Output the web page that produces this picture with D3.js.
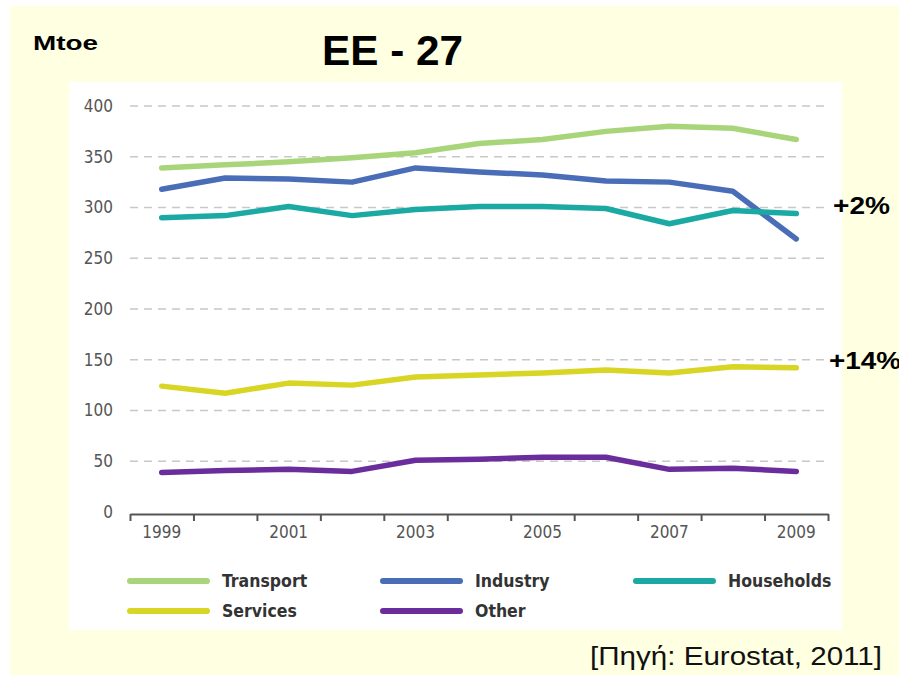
<!DOCTYPE html>
<html>
<head>
<meta charset="utf-8">
<script src="https://cdn.jsdelivr.net/npm/d3@7"></script>
<style>
  body { margin: 0; background: #fff; }
  .narrow { font-family: "DejaVu Sans Condensed", "Liberation Sans Narrow", "Open Sans", sans-serif; }
</style>
</head>
<body>
<script>
// data (Mtoe)
var years = [1999, 2000, 2001, 2002, 2003, 2004, 2005, 2006, 2007, 2008, 2009];
var transport  = [339, 342, 345, 349, 354, 363, 367, 375, 380, 378, 367];
var industry   = [318, 329, 328, 325, 339, 335, 332, 326, 325, 316, 269];
var households = [290, 292, 301, 292, 298, 301, 301, 299, 284, 297, 294];
var services   = [124, 117, 127, 125, 133, 135, 137, 140, 137, 143, 142];
var other      = [39, 41, 42, 40, 51, 52, 54, 54, 42, 43, 40];
var yTicks = [0, 50, 100, 150, 200, 250, 300, 350, 400];
var yearLabels = [1999, 2001, 2003, 2005, 2007, 2009];

var series = [
    {name: "Transport",  values: transport,  color: "#a9d57a"},
    {name: "Industry",   values: industry,   color: "#4a6db7"},
    {name: "Households", values: households, color: "#1ba9a3"},
    {name: "Services",   values: services,   color: "#d9d524"},
    {name: "Other",      values: other,      color: "#6b2c9c"}
];

var width = 899, height = 675;

var svg = d3.select("body")
    .append("svg")
        .attr("width", width)
        .attr("height", height);

// cream slide background and white chart panel
svg.append("rect")
    .attr("x", 10).attr("y", 6)
    .attr("width", width - 10).attr("height", height - 6)
    .attr("fill", "#ffffe1");
svg.append("rect")
    .attr("x", 69).attr("y", 82)
    .attr("width", 773).attr("height", 548)
    .attr("fill", "#ffffff");

var x = d3.scaleBand()
    .domain(years)
    .range([130, 828]);

var xEdge = d3.scaleLinear()
    .domain([0, years.length])
    .range([130, 828]);

var y = d3.scaleLinear()
    .domain([0, 400])
    .range([512, 106]);

// dashed gridlines
svg.append("g")
    .selectAll("line")
    .data(yTicks.filter(function(d) { return d > 0; }))
    .enter()
    .append("line")
        .attr("x1", 130)
        .attr("x2", 828)
        .attr("y1", function(d) { return y(d); })
        .attr("y2", function(d) { return y(d); })
        .attr("stroke", "#c8c8c8")
        .attr("stroke-width", 1.3)
        .attr("stroke-dasharray", "8,6");

// y labels
var leftAxis = d3.axisLeft(y).tickValues(yTicks).tickSize(0).tickPadding(0);
svg.append("g")
    .attr("class", "left axis narrow")
    .attr("transform", "translate(113, 0)")
    .call(leftAxis)
    .call(function(g) { g.select(".domain").remove(); })
    .selectAll("text")
        .attr("font-family", null)
        .attr("font-size", "17px")
        .attr("fill", "#555");

// lines
var line = d3.line()
    .x(function(d, i) { return x(years[i]) + x.bandwidth() / 2; })
    .y(function(d) { return y(d); });

svg.append("g")
    .selectAll("path")
    .data(series)
    .enter()
    .append("path")
        .attr("d", function(s) { return line(s.values); })
        .attr("fill", "none")
        .attr("stroke", function(s) { return s.color; })
        .attr("stroke-width", 5.5)
        .attr("stroke-linecap", "round")
        .attr("stroke-linejoin", "round");

// x axis: ticks at band edges, labels on odd years
var edgeAxis = d3.axisBottom(xEdge)
    .tickValues(d3.range(years.length + 1))
    .tickSize(7)
    .tickSizeOuter(0)
    .tickFormat("");
svg.append("g")
    .attr("class", "bottom axis")
    .attr("transform", "translate(0, 514)")
    .call(edgeAxis)
    .call(function(g) {
        g.select(".domain").attr("stroke", "#555").attr("stroke-width", 2.2);
        g.selectAll(".tick line").attr("stroke", "#555").attr("stroke-width", 2);
    });

var bottomAxis = d3.axisBottom(x)
    .tickValues(yearLabels)
    .tickSize(0)
    .tickPadding(12);
svg.append("g")
    .attr("class", "bottom axis narrow")
    .attr("transform", "translate(0, 514)")
    .call(bottomAxis)
    .call(function(g) { g.select(".domain").remove(); })
    .selectAll("text")
        .attr("font-family", null)
        .attr("font-size", "17px")
        .attr("fill", "#555");

// legend
var legendPos = [[130, 581], [383, 581], [636, 581], [130, 611], [383, 611]];
var legend = svg.append("g")
    .attr("class", "narrow")
    .selectAll("g")
    .data(series)
    .enter()
    .append("g")
        .attr("transform", function(s, i) { return "translate(" + legendPos[i][0] + "," + legendPos[i][1] + ")"; });

legend.append("line")
    .attr("x1", 0).attr("x2", 77)
    .attr("stroke", function(s) { return s.color; })
    .attr("stroke-width", 6)
    .attr("stroke-linecap", "round");

legend.append("text")
    .attr("x", 92)
    .attr("dy", "0.35em")
    .attr("font-size", "17.5px")
    .attr("font-weight", "bold")
    .attr("fill", "#333")
    .text(function(s) { return s.name; });

// titles and notes (the slide text is a little stretched sideways)
var sans = "Liberation Sans, Arial, sans-serif";

svg.append("text")
    .attr("x", 33).attr("y", 50)
    .attr("font-family", sans)
    .attr("font-size", "21px")
    .attr("font-weight", "bold")
    .attr("textLength", 65)
    .attr("lengthAdjust", "spacingAndGlyphs")
    .text("Mtoe");

svg.append("text")
    .attr("x", 322).attr("y", 65)
    .attr("font-family", sans)
    .attr("font-size", "43px")
    .attr("font-weight", "bold")
    .attr("textLength", 141)
    .attr("lengthAdjust", "spacingAndGlyphs")
    .text("EE - 27");

svg.append("text")
    .attr("x", 833).attr("y", 214)
    .attr("font-family", sans)
    .attr("font-size", "23px")
    .attr("font-weight", "bold")
    .attr("textLength", 57)
    .attr("lengthAdjust", "spacingAndGlyphs")
    .text("+2%");

svg.append("text")
    .attr("x", 829).attr("y", 369)
    .attr("font-family", sans)
    .attr("font-size", "23px")
    .attr("font-weight", "bold")
    .attr("textLength", 72)
    .attr("lengthAdjust", "spacingAndGlyphs")
    .text("+14%");

svg.append("text")
    .attr("x", 590).attr("y", 665)
    .attr("font-family", sans)
    .attr("font-size", "25px")
    .attr("fill", "#111")
    .attr("textLength", 292)
    .attr("lengthAdjust", "spacingAndGlyphs")
    .text("[Πηγή: Eurostat, 2011]");
</script>
</body>
</html>
